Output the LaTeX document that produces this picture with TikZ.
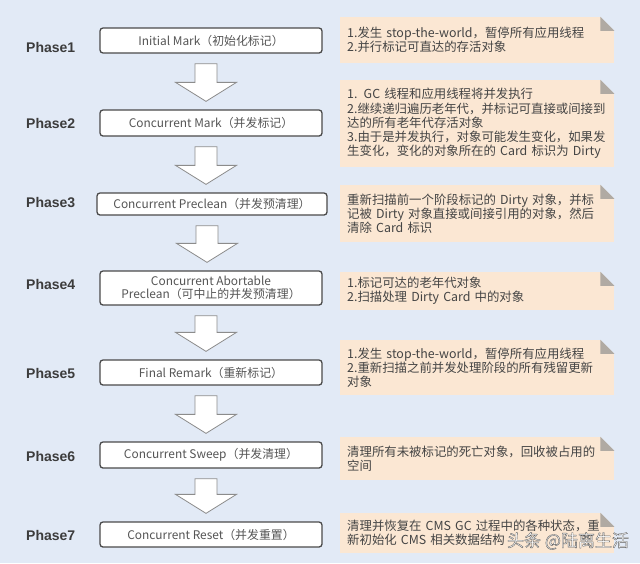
\documentclass[tikz,border=0pt]{standalone}
\usepackage{fontspec}
\setmainfont{Noto Sans CJK SC}
\newfontfamily\phasefont{Liberation Sans}
\usetikzlibrary{calc}
\definecolor{bgblue}{HTML}{E2EAF6}
\definecolor{notefill}{HTML}{FBE7D3}
\definecolor{foldgray}{HTML}{B0AAA3}
\definecolor{boxline}{HTML}{4A4A4A}
\definecolor{boxtext}{HTML}{555555}
\definecolor{notetext}{HTML}{444444}
\definecolor{phasecol}{HTML}{3C3C3C}
\definecolor{arrline}{HTML}{8C8C8C}
\tikzset{
  phaselabel/.style={anchor=west, inner sep=0pt, text=phasecol,
    font=\phasefont\bfseries\fontsize{14}{16}\selectfont},
  stagebox/.style={draw=boxline, line width=1.3pt, fill=white, rounded corners=3pt,
    minimum width=222pt, inner sep=0pt, align=center, text=boxtext,
    font=\fontsize{11.9}{13.5}\selectfont},
  note/.style={fill=notefill, anchor=west, minimum width=274pt, text width=260pt,
    inner xsep=7pt, inner ysep=0pt, align=left, text=notetext,
    font=\fontsize{12.4}{14.2}\selectfont},
  blockarr/.style={draw=arrline, line width=0.8pt, fill=white, line join=miter},
  wmark/.style={inner sep=0pt, font=\fontsize{17}{19}\selectfont},
}
\newcommand\blockarrow[2]{%
  \draw[blockarr] let \p1=($(#1.south)+(-5,10)$), \p2=($(#2.north)+(0,-8)$) in
    (\x1-11pt,\y1) -- (\x1+11pt,\y1) -- (\x1+11pt,\y2+19pt) -- (\x1+30.5pt,\y2+19pt)
    -- (\x1,\y2) -- (\x1-30.5pt,\y2+19pt) -- (\x1-11pt,\y2+19pt) -- cycle;}
\newcommand\notefold[1]{%
  \fill[bgblue] ([xshift=-14pt]#1.north east) -- (#1.north east) -- ([yshift=-14pt]#1.north east) -- cycle;
  \fill[foldgray] ([xshift=-14pt]#1.north east) -- ([xshift=-14pt,yshift=-14pt]#1.north east) -- ([yshift=-14pt]#1.north east) -- cycle;}
\begin{document}
\begin{tikzpicture}[x=1pt,y=-1pt]
\fill[bgblue] (0,0) rectangle (640,563);
\useasboundingbox (0,0) rectangle (640,563);

% phase labels
\node[phaselabel] (ph1) at (26,47) {Phase1};
\node[phaselabel] (ph2) at (26,123) {Phase2};
\node[phaselabel] (ph3) at (26,203) {Phase3};
\node[phaselabel] (ph4) at (26,284) {Phase4};
\node[phaselabel] (ph5) at (26,373) {Phase5};
\node[phaselabel] (ph6) at (26,456) {Phase6};
\node[phaselabel] (ph7) at (26,535) {Phase7};

% stage boxes
\node[stagebox, minimum height=25pt] (b1) at (211,40.5) {Initial Mark（初始化标记）};
\node[stagebox, minimum height=26pt] (b2) at (211,123) {Concurrent Mark（并发标记）};
\node[stagebox, minimum height=22pt, minimum width=230pt] (b3) at (212,204) {Concurrent Preclean（并发预清理）};
\node[stagebox, minimum height=34pt] (b4) at (211,288) {Concurrent Abortable\\Preclean（可中止的并发预清理）};
\node[stagebox, minimum height=25pt] (b5) at (211,372.5) {Final Remark（重新标记）};
\node[stagebox, minimum height=26pt] (b6) at (211,455) {Concurrent Sweep（并发清理）};
\node[stagebox, minimum height=25pt] (b7) at (211,534.5) {Concurrent Reset（并发重置）};

% block arrows
\blockarrow{b1}{b2}
\blockarrow{b2}{b3}
\blockarrow{b3}{b4}
\blockarrow{b4}{b5}
\blockarrow{b5}{b6}
\blockarrow{b6}{b7}

% notes
\node[note, minimum height=46pt] (n1) at (340,40) {1.发生 stop-the-world，暂停所有应用线程\\2.并行标记可直达的存活对象};
\node[note, minimum height=87pt] (n2) at (340,123.5) {1. GC 线程和应用线程将并发执行\\2.继续递归遍历老年代，并标记可直接或间接到\\达的所有老年代存活对象\\3.由于是并发执行，对象可能发生变化，如果发\\生变化，变化的对象所在的 Card 标识为 Dirty};
\node[note, minimum height=57pt] (n3) at (340,213.5) {重新扫描前一个阶段标记的 Dirty 对象，并标\\记被 Dirty 对象直接或间接引用的对象，然后\\清除 Card 标识};
\node[note, minimum height=38pt] (n4) at (340,291) {1.标记可达的老年代对象\\2.扫描处理 Dirty Card 中的对象};
\node[note, minimum height=55pt] (n5) at (340,367.5) {1.发生 stop-the-world，暂停所有应用线程\\2.重新扫描之前并发处理阶段的所有残留更新\\对象};
\node[note, minimum height=43pt] (n6) at (340,458.5) {清理所有未被标记的死亡对象，回收被占用的\\空间};
\node[note, minimum height=40pt] (n7) at (340,533) {清理并恢复在 CMS GC 过程中的各种状态，重\\新初始化 CMS 相关数据结构};
\foreach \n in {n1,n2,n3,n4,n5,n6,n7}{\notefold{\n}}

% watermark (white fill, thin dark outline)
\node[wmark, text=white] (wm) at (568,541) {\special{pdf:code 2 Tr 0.35 w 0.35 G}头条 @陆离生活\special{pdf:code 0 Tr}};
\end{tikzpicture}
\end{document}
